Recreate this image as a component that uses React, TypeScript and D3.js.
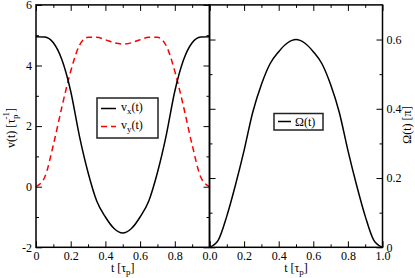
import React, { useEffect, useRef } from "react";
import * as d3 from "d3";

const timeValues = [
  0, 0.05, 0.1, 0.15, 0.2, 0.25, 0.3, 0.35, 0.4, 0.45, 0.5, 0.55, 0.6, 0.65,
  0.7, 0.75, 0.8, 0.85, 0.9, 0.95, 1,
];
const vxValues = [
  4.95, 4.94, 4.75, 4.18, 3.15, 1.68, 0.47, -0.47, -1.0, -1.38, -1.53, -1.38,
  -1.0, -0.47, 0.47, 1.68, 3.15, 4.18, 4.75, 4.94, 4.95,
];
const vyValues = [
  0, 0.31, 1.38, 2.65, 3.81, 4.66, 4.93, 4.93, 4.85, 4.75, 4.71, 4.75, 4.85,
  4.93, 4.93, 4.66, 3.81, 2.65, 1.38, 0.31, 0,
];
const omegaValues = [
  0, 0.02, 0.09, 0.18, 0.28, 0.39, 0.47, 0.53, 0.565, 0.59, 0.6, 0.59, 0.565,
  0.53, 0.47, 0.39, 0.28, 0.18, 0.09, 0.02, 0,
];

const xMajor = [0, 0.2, 0.4, 0.6, 0.8, 1.0];
const xMinor = [0.1, 0.3, 0.5, 0.7, 0.9];
const leftXLabels = ["0", "0.2", "0.4", "0.6", "0.8", ""];
const rightXLabels = ["0.0", "0.2", "0.4", "0.6", "0.8", "1.0"];
const vMajor = [-2, 0, 2, 4, 6];
const vMinor = [-1, 1, 3, 5];
const omegaMajor = [0, 0.2, 0.4, 0.6];
const omegaMinor = [0.1, 0.3, 0.5];
const omegaLabels = ["0", "0.2", "0.4", "0.6"];

const FONT = "'Liberation Serif', 'Times New Roman', serif";

function styleAxis(g) {
  g.select(".domain").remove();
  g.attr("font-family", FONT).attr("font-size", 12);
  g.selectAll("line").attr("stroke", "#000").attr("stroke-width", 1);
  g.selectAll("text").attr("fill", "#000");
}

function addAxis(svg, axis, transform) {
  const g = svg.append("g").attr("transform", transform).call(axis);
  styleAxis(g);
  return g;
}

function ticksOn(svg, make, scale, major, minor, labels, transform) {
  const fmt = (d) => {
    if (!labels) return "";
    const i = major.indexOf(d);
    return i >= 0 ? labels[i] : "";
  };
  addAxis(
    svg,
    make(scale).tickValues(major).tickSize(-6).tickPadding(4).tickFormat(fmt),
    transform,
  );
  addAxis(
    svg,
    make(scale).tickValues(minor).tickSize(-3).tickFormat(() => ""),
    transform,
  );
}

function App() {
  const svgRef = useRef(null);
  const width = 415;
  const height = 278;

  useEffect(() => {
    const svg = d3.select(svgRef.current);
    svg.selectAll("*").remove();

    const top = 4.9;
    const bottom = 247.3;
    const mid = 209.5;

    const xLeft = d3.scaleLinear().domain([0, 1]).range([36, mid]);
    const xRight = d3.scaleLinear().domain([0, 1]).range([mid, 382.5]);
    const yV = d3.scaleLinear().domain([-2, 6]).range([bottom, top]);
    const yOmega = d3.scaleLinear().domain([0, 0.7]).range([bottom, top]);

    // ticks, left panel
    ticksOn(svg, d3.axisBottom, xLeft, xMajor, xMinor, leftXLabels, `translate(0,${bottom})`);
    ticksOn(svg, d3.axisTop, xLeft, xMajor, xMinor, null, `translate(0,${top})`);
    ticksOn(svg, d3.axisLeft, yV, vMajor, vMinor, vMajor.map(String), `translate(36,0)`);
    ticksOn(svg, d3.axisRight, yV, vMajor, vMinor, null, `translate(${mid},0)`);

    // ticks, right panel
    ticksOn(svg, d3.axisBottom, xRight, xMajor, xMinor, rightXLabels, `translate(0,${bottom})`);
    ticksOn(svg, d3.axisTop, xRight, xMajor, xMinor, null, `translate(0,${top})`);
    ticksOn(svg, d3.axisLeft, yOmega, omegaMajor, omegaMinor, null, `translate(${mid},0)`);
    ticksOn(svg, d3.axisRight, yOmega, omegaMajor, omegaMinor, omegaLabels, `translate(382.5,0)`);

    const lineLeft = (vals) =>
      d3
        .line()
        .x((_, i) => xLeft(timeValues[i]))
        .y((d) => yV(d))
        .curve(d3.curveMonotoneX)(vals);

    svg
      .append("path")
      .attr("d", lineLeft(vyValues))
      .attr("fill", "none")
      .attr("stroke", "#ff0000")
      .attr("stroke-width", 1.5)
      .attr("stroke-dasharray", "6,4");

    svg
      .append("path")
      .attr("d", lineLeft(vxValues))
      .attr("fill", "none")
      .attr("stroke", "#000")
      .attr("stroke-width", 1.5);

    const omegaLine = d3
      .line()
      .x((_, i) => xRight(timeValues[i]))
      .y((d) => yOmega(d))
      .curve(d3.curveMonotoneX);

    svg
      .append("path")
      .attr("d", omegaLine(omegaValues))
      .attr("fill", "none")
      .attr("stroke", "#000")
      .attr("stroke-width", 1.5);

    // frames
    [
      [36, mid],
      [mid, 382.5],
    ].forEach(([x0, x1]) => {
      svg
        .append("rect")
        .attr("x", x0)
        .attr("y", top)
        .attr("width", x1 - x0)
        .attr("height", bottom - top)
        .attr("fill", "none")
        .attr("stroke", "#000")
        .attr("stroke-width", 1.5);
    });

    const text = (x, y, anchor = "middle") =>
      svg
        .append("text")
        .attr("x", x)
        .attr("y", y)
        .attr("text-anchor", anchor)
        .attr("font-family", FONT)
        .attr("font-size", 12)
        .attr("fill", "#000");

    // x titles
    [xLeft, xRight].forEach((sc) => {
      const t = text(sc(0.5), 272);
      t.append("tspan").text("t [τ");
      t.append("tspan").attr("font-size", 9).attr("dy", 3).text("p");
      t.append("tspan").attr("dy", -3).text("]");
    });

    // left y title
    const vt = svg
      .append("text")
      .attr("transform", "translate(15,128) rotate(-90)")
      .attr("text-anchor", "middle")
      .attr("font-family", FONT)
      .attr("font-size", 12);
    vt.append("tspan").text("v(t) [τ");
    vt.append("tspan").attr("font-size", 9).attr("dy", 3).text("p");
    vt.append("tspan").attr("font-size", 9).attr("dx", -5).attr("dy", -9).text("-1");
    vt.append("tspan").attr("dy", 6).text("]");

    // right y title
    svg
      .append("text")
      .attr("transform", "translate(411,125) rotate(-90)")
      .attr("text-anchor", "middle")
      .attr("font-family", FONT)
      .attr("font-size", 12)
      .text("Ω(t) [π]");

    // legend, left
    svg
      .append("rect")
      .attr("x", 97)
      .attr("y", 98)
      .attr("width", 61)
      .attr("height", 40)
      .attr("fill", "#fff")
      .attr("stroke", "#222")
      .attr("stroke-width", 1.5);

    const legendRows = [
      { sub: "x", color: "#000", dash: null, y: 108.5 },
      { sub: "y", color: "#ff0000", dash: "6,4", y: 126.5 },
    ];
    legendRows.forEach((row) => {
      svg
        .append("line")
        .attr("x1", 101)
        .attr("x2", 116)
        .attr("y1", row.y)
        .attr("y2", row.y)
        .attr("stroke", row.color)
        .attr("stroke-width", 1.5)
        .attr("stroke-dasharray", row.dash);
      const t = text(121, row.y + 2, "start");
      t.append("tspan").text("v");
      t.append("tspan").attr("font-size", 9).attr("dy", 3).text(row.sub);
      t.append("tspan").attr("dy", -3).text("(t)");
    });

    // legend, right
    svg
      .append("rect")
      .attr("x", 274)
      .attr("y", 113.5)
      .attr("width", 49)
      .attr("height", 16.5)
      .attr("fill", "#fff")
      .attr("stroke", "#222")
      .attr("stroke-width", 1.5);
    svg
      .append("line")
      .attr("x1", 278)
      .attr("x2", 291)
      .attr("y1", 121.5)
      .attr("y2", 121.5)
      .attr("stroke", "#000")
      .attr("stroke-width", 1.5);
    text(295, 125.5, "start").text("Ω(t)");
  }, []);

  return (
    <svg
      ref={svgRef}
      width={width}
      height={height}
      style={{ position: "absolute", left: 0, top: 0, background: "#fff" }}
    />
  );
}

export default App;
